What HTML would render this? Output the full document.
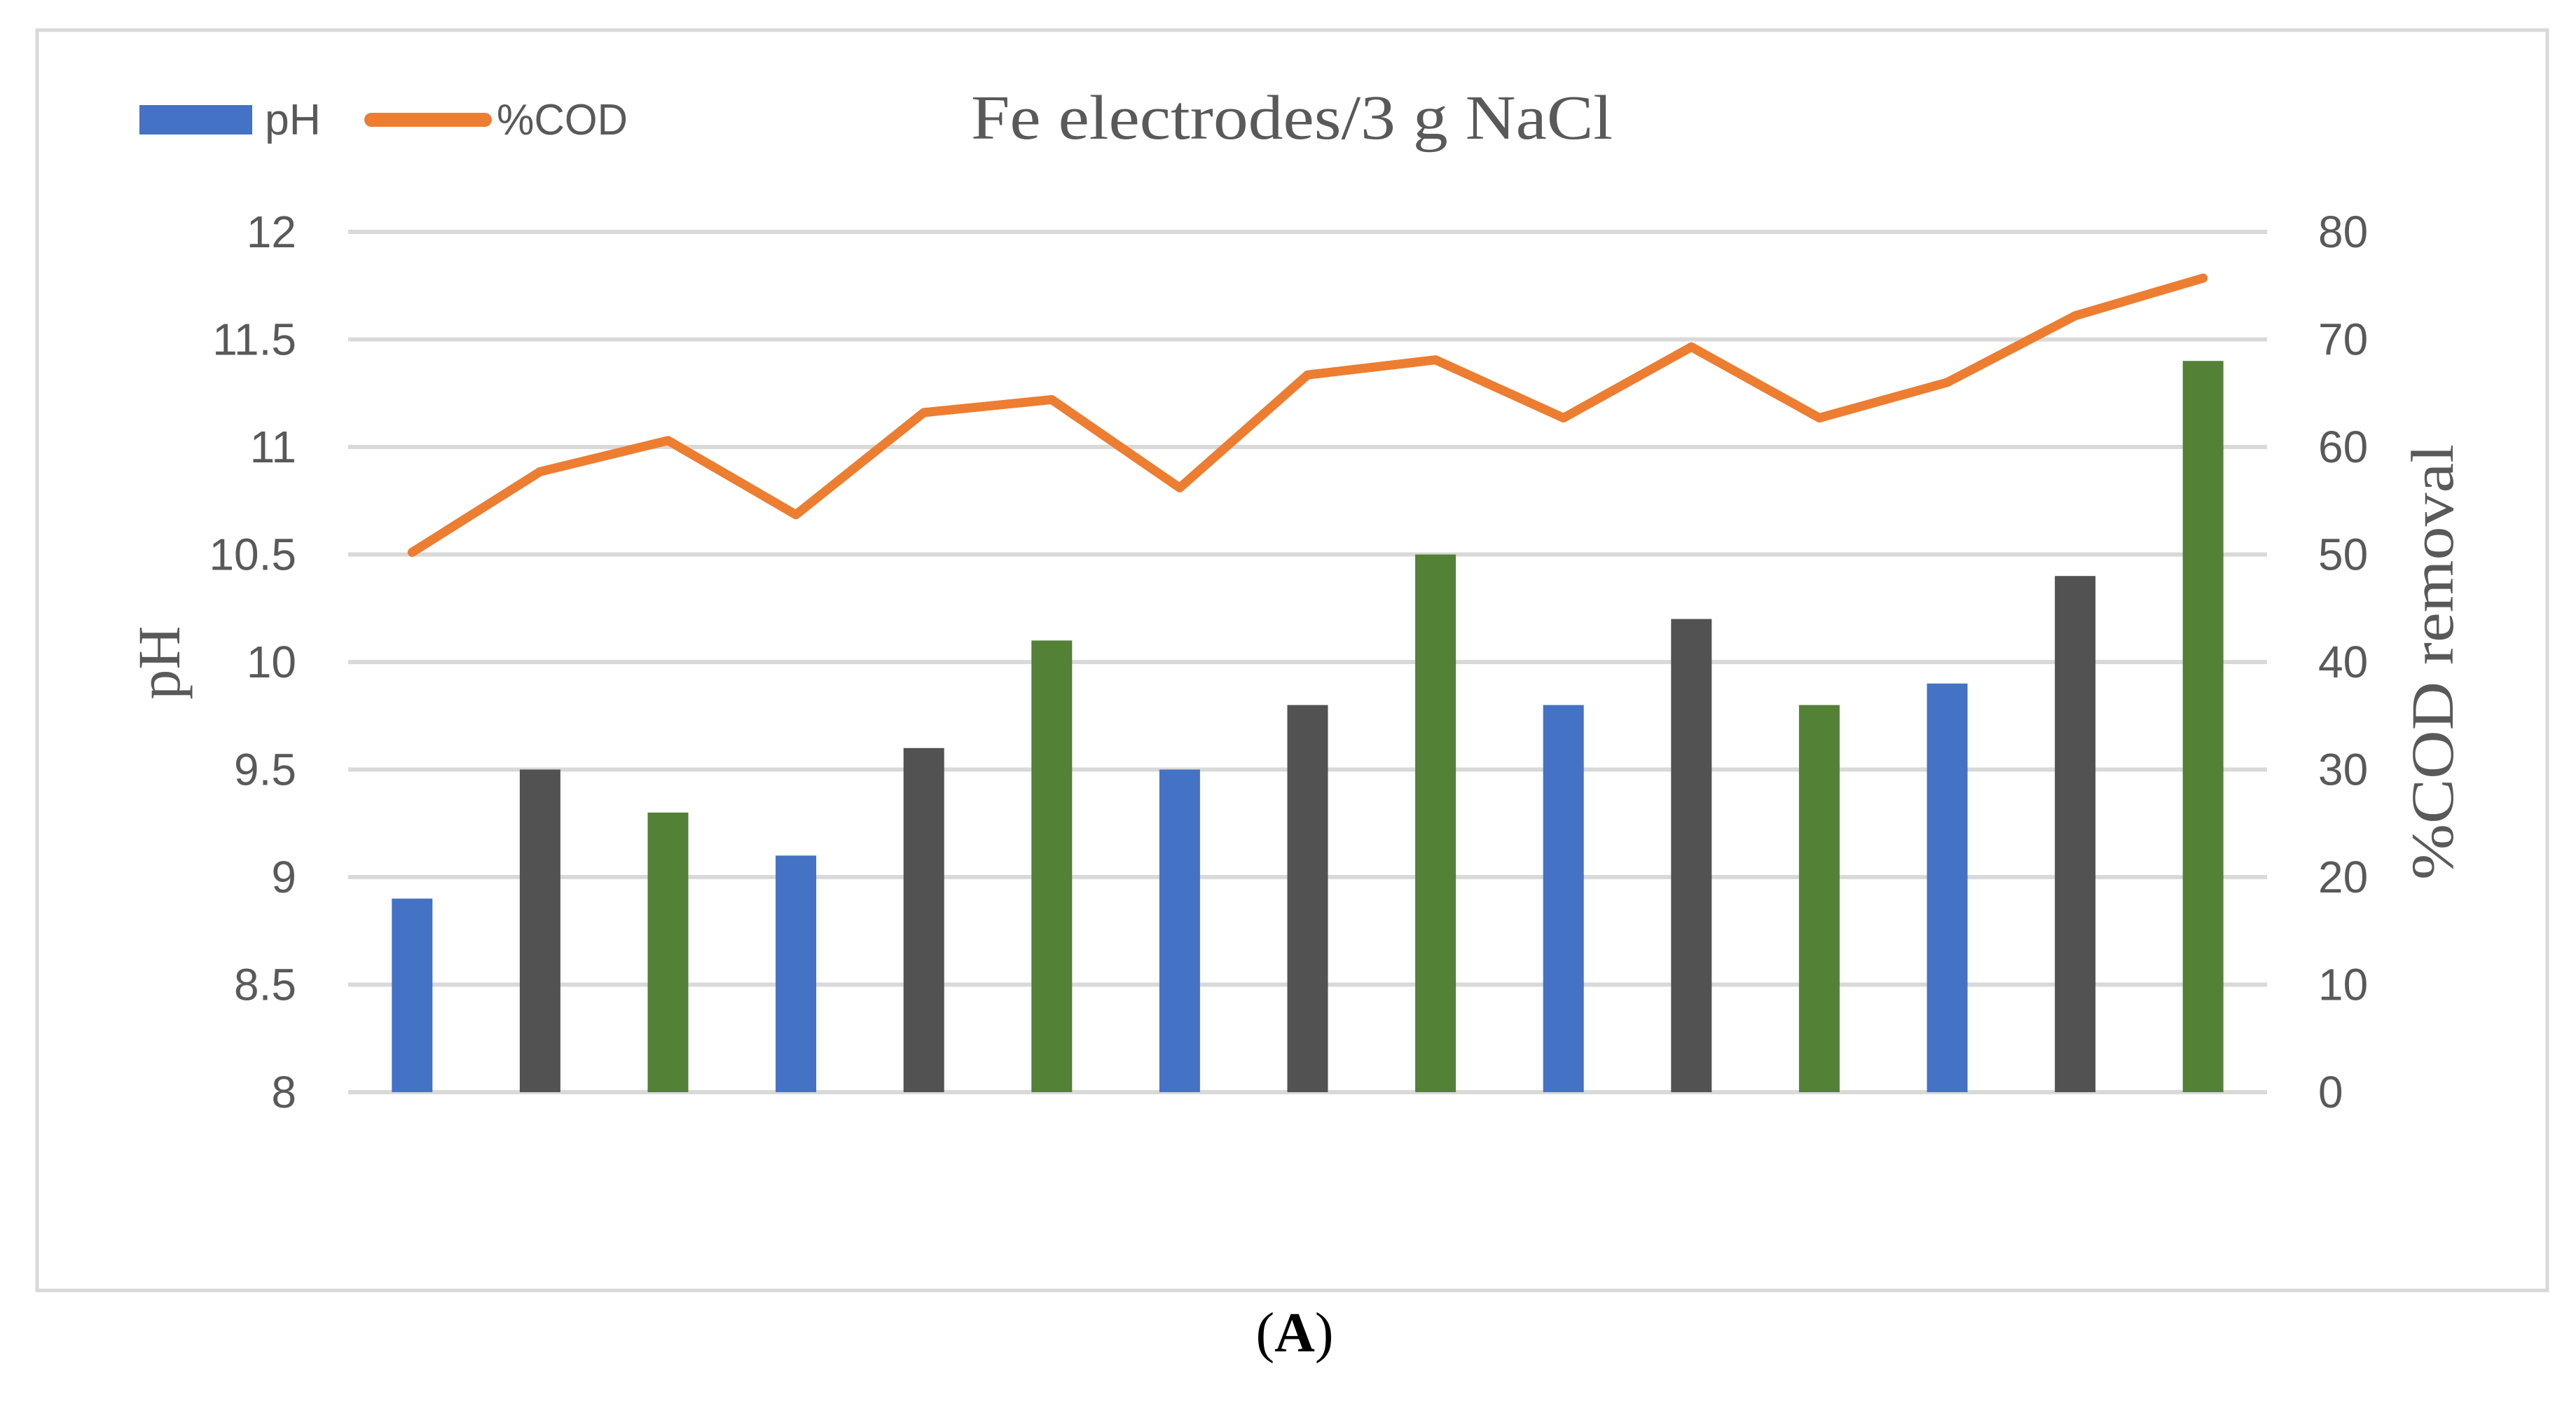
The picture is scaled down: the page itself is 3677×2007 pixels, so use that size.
<!DOCTYPE html>
<html><head><meta charset="utf-8"><style>
html,body{margin:0;padding:0;background:#fff;}
svg{display:block;}
</style></head><body>
<svg id="chart" width="3677" height="2007" viewBox="0 0 3677 2007" xmlns="http://www.w3.org/2000/svg">
<rect x="53" y="43" width="3583" height="1799" fill="#fff" stroke="#d9d9d9" stroke-width="5"/>
<g id="grid"></g>
<g id="bars"></g>
<g id="line"></g>
<g id="lticks"></g>
<g id="rticks"></g>
<text x="227" y="946" transform="rotate(-90 227 946)" text-anchor="middle" dominant-baseline="central" font-family="Liberation Serif, serif" font-size="86" fill="#595959">pH</text>
<text x="3472" y="945" transform="rotate(-90 3472 945)" text-anchor="middle" dominant-baseline="central" font-family="Liberation Serif, serif" font-size="86" fill="#595959" textLength="622" lengthAdjust="spacingAndGlyphs">%COD removal</text>
<text x="1386" y="198" font-family="Liberation Serif, serif" font-size="90" fill="#595959" textLength="916" lengthAdjust="spacingAndGlyphs">Fe electrodes/3 g NaCl</text>
<g>
<g>
<rect x="199" y="150" width="161" height="42" fill="#4472C4"/>
<text x="378" y="192" font-family="Liberation Sans, sans-serif" font-size="62" fill="#595959" textLength="80" lengthAdjust="spacingAndGlyphs">pH</text>
</g>
<g>
<line x1="530" y1="171" x2="692" y2="171" stroke="#ED7D31" stroke-width="20" stroke-linecap="round"/>
<text x="709" y="192" font-family="Liberation Sans, sans-serif" font-size="62" fill="#595959" textLength="187" lengthAdjust="spacingAndGlyphs">%COD</text>
</g>
</g>
<text x="1848" y="1929" text-anchor="middle" font-family="Liberation Serif, serif" font-size="80" fill="#000">(<tspan font-weight="bold">A</tspan>)</text>
</svg>
<script>
const categories = [1,2,3,4,5,6,7,8,9,10,11,12,13,14,15];
const phValues = [8.9,9.5,9.3,9.1,9.6,10.1,9.5,9.8,10.5,9.8,10.2,9.8,9.9,10.4,11.4];
const codValues = [50.2,57.7,60.6,53.7,63.2,64.4,56.2,66.7,68.1,62.7,69.3,62.7,66.0,72.2,75.7];
const leftTicks = ["8","8.5","9","9.5","10","10.5","11","11.5","12"];
const rightTicks = ["0","10","20","30","40","50","60","70","80"];
const barColors = ["#4472C4","#525252","#538135"];

const NS = "http://www.w3.org/2000/svg";
const X0 = 497, X1 = 3236, YT = 331, YB = 1559;
const bw = (X1 - X0) / categories.length;
const xc = i => X0 + bw * (i + 0.5);
const yL = v => YB - (v - 8) / 4 * (YB - YT);
const yR = v => YB - v / 80 * (YB - YT);
function mk(tag, attrs, parent){ const e = document.createElementNS(NS, tag); for (const k in attrs) e.setAttribute(k, attrs[k]); parent.appendChild(e); return e; }

const grid = document.getElementById('grid');
const lt = document.getElementById('lticks');
const rt = document.getElementById('rticks');
leftTicks.forEach((t, i) => {
  const v = parseFloat(t);
  const y = yL(v);
  const g = mk('line', {x1: X0, x2: X1, y1: y, y2: y, stroke: '#d9d9d9', 'stroke-width': 6}, grid);
  
  
  const tx = mk('text', {x: 423, y: y, 'text-anchor': 'end', 'dominant-baseline': 'central', 'font-family': 'Liberation Sans, sans-serif', 'font-size': 64, fill: '#595959'}, lt);
  tx.textContent = t;
  
  
});
rightTicks.forEach(t => {
  const y = yR(parseFloat(t));
  const tx = mk('text', {x: 3309, y: y, 'text-anchor': 'start', 'dominant-baseline': 'central', 'font-family': 'Liberation Sans, sans-serif', 'font-size': 64, fill: '#595959'}, rt);
  tx.textContent = t;
  
  
});
const bars = document.getElementById('bars');
const barW = 58;
phValues.forEach((v, i) => {
  const y = yL(v);
  const r = mk('rect', {x: xc(i) - barW / 2, y: y, width: barW, height: YB - y, fill: barColors[i % 3]}, bars);
  
  
});
const line = document.getElementById('line');
const pts = codValues.map((v, i) => xc(i) + ',' + yR(v)).join(' ');
const pl = mk('polyline', {points: pts, fill: 'none', stroke: '#ED7D31', 'stroke-width': 13, 'stroke-linejoin': 'round', 'stroke-linecap': 'round'}, line);


</script>
</body></html>
